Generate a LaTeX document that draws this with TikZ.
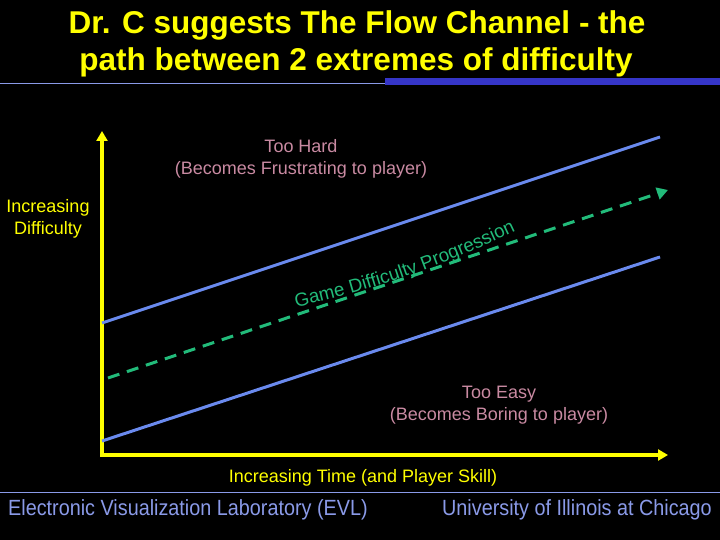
\documentclass[tikz,border=0pt]{standalone}
\usepackage{fontspec}
\setmainfont{Liberation Sans}
\newfontfamily\narrowfont[FakeStretch=0.9]{Liberation Sans}
\usetikzlibrary{arrows.meta,decorations.text}
\definecolor{titleyellow}{HTML}{FFFF00}
\definecolor{axisyellow}{HTML}{FFFF00}
\definecolor{channelblue}{HTML}{6A8AEE}
\definecolor{flowgreen}{HTML}{22BB7A}
\definecolor{labelpink}{HTML}{C98AA2}
\definecolor{footblue}{HTML}{8A9AE8}
\definecolor{barblue}{HTML}{3535C8}
\tikzset{
  titletext/.style={text=titleyellow,font=\fontsize{31.5}{36}\selectfont\bfseries,inner sep=0pt},
  pinklabel/.style={text=labelpink,font=\fontsize{18}{22}\selectfont,align=center,inner sep=0pt},
  yellowlabel/.style={text=axisyellow,font=\fontsize{18}{22}\selectfont,align=center,inner sep=0pt},
  foottext/.style={text=footblue,font=\narrowfont\fontsize{22}{26}\selectfont,inner sep=0pt},
  axisline/.style={draw=axisyellow,line width=4pt,miter limit=10,{Triangle[length=10pt,width=11pt]}-{Triangle[length=10pt,width=11pt]}},
  channel/.style={draw=channelblue,line width=3pt},
  flowline/.style={draw=flowgreen,line width=3pt,dash pattern=on 12pt off 8pt,-{Triangle[length=11pt,width=12pt]}}
}
\begin{document}
\begin{tikzpicture}[x=1pt,y=-1pt]
\fill[black] (0,0) rectangle (720,540);
\useasboundingbox (0,0) rectangle (720,540);
% title
\node[titletext] (t1) at (357,25) {Dr. C suggests The Flow Channel - the};
\node[titletext] (t2) at (356,62) {path between 2 extremes of difficulty};
\coordinate (hl0) at (0,84);
\coordinate (hl1) at (385,84);
\draw[footblue,line width=1pt] (hl0) -- (hl1);
\fill[barblue] (385,78) rectangle (720,85.5);
% axes
\coordinate (Ytop) at (102,131);
\coordinate (O) at (102,455);
\coordinate (Xend) at (668,455);
\draw[axisline] (Ytop) -- (O) -- (Xend);
% channel lines
\coordinate (hardA) at (102,323);
\coordinate (hardB) at (660,137);
\coordinate (easyA) at (102,441);
\coordinate (easyB) at (660,257);
\draw[channel] (hardA) -- (hardB);
\draw[channel] (easyA) -- (easyB);
% flow
\coordinate (flowA) at (108,378);
\coordinate (flowB) at (668,190);
\draw[flowline] (flowA) -- (flowB);
\coordinate (gA) at (296,307);
\coordinate (gB) at (522,228);
\path[decorate,decoration={text along path,text color=flowgreen,text={|\fontsize{18.8}{19}\selectfont|Game Difficulty Progression}}] (gA) .. controls (372,291) and (446,265) .. (gB);
% labels
\node[pinklabel] (hard) at (301,159) {Too Hard\\(Becomes Frustrating to player)};
\node[yellowlabel] (incd) at (48,219) {Increasing\\Difficulty};
\node[pinklabel] (easy) at (499,405) {Too Easy\\(Becomes Boring to player)};
\node[yellowlabel] (inct) at (363,478) {Increasing Time (and Player Skill)};
% footer
\coordinate (fl0) at (0,492);
\coordinate (fl1) at (720,492);
\draw[footblue,line width=1pt] (fl0) -- (fl1);
\node[foottext,anchor=west] (evl) at (8,509.5) {Electronic Visualization Laboratory (EVL)};
\node[foottext,anchor=east] (uic) at (712,509.5) {University of Illinois at Chicago};
\end{tikzpicture}
\end{document}
